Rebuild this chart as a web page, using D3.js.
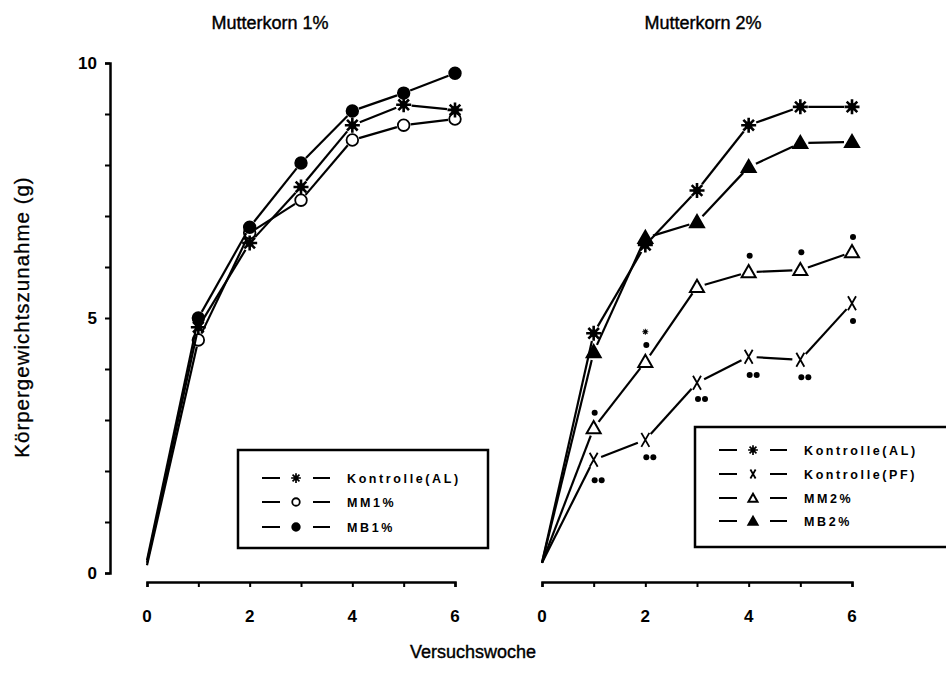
<!DOCTYPE html>
<html>
<head>
<meta charset="utf-8">
<script src="https://cdn.jsdelivr.net/npm/d3@7"></script>
<style>
  body { margin: 0; background: #fff; }
  svg { display: block; }
  text { font-family: "Liberation Sans", Arial, sans-serif; fill: #000; }
</style>
</head>
<body>
<svg width="946" height="685"></svg>
<script>
// weeks and values
var weeks = [0, 1, 2, 3, 4, 5, 6];
var xTicks = [0, 2, 4, 6];
var yTicks = [0, 5, 10];

// Mutterkorn 1%
var l_kontrolleAL = [0.2, 4.82, 6.47, 7.57, 8.78, 9.18, 9.08];
var l_mm1 = [0.15, 4.57, 6.67, 7.31, 8.49, 8.78, 8.9];
var l_mb1 = [0.25, 5.0, 6.78, 8.04, 9.06, 9.41, 9.8];

// Mutterkorn 2%
var r_kontrolleAL = [0.2, 4.7, 6.43, 7.5, 8.78, 9.14, 9.14];
var r_kontrollePF = [0.2, 2.22, 2.61, 3.73, 4.24, 4.18, 5.29];
var r_mm2 = [0.2, 2.84, 4.14, 5.61, 5.9, 5.94, 6.29];
var r_mb2 = [0.2, 4.33, 6.57, 6.88, 7.96, 8.43, 8.45];

// significance dots (week, value, number of dots)
var sigWeeks = [1, 2, 4, 5, 6, 1, 2, 3, 4, 5, 6];
var sigValues = [3.14, 4.47, 6.22, 6.29, 6.59, 1.82, 2.27, 3.41, 3.88, 3.84, 4.94];
var sigCounts = [1, 1, 1, 1, 1, 2, 2, 2, 2, 2, 1];
// small asterisk above MM2% week 2
var sigStarWeek = [2];
var sigStarValue = [4.73];

var svg = d3.select("svg");

var y = d3.scaleLinear().domain([0, 10]).range([573, 63]);
var xL = d3.scaleLinear().domain([0, 6]).range([147, 455]);
var xR = d3.scaleLinear().domain([0, 6]).range([542, 852]);

function marker(g, type, cx, cy, s) {
  s = s || 1;
  if (type == "star") {
    var r = 7.5 * s;
    var p = "";
    for (var i = 0; i < 4; i++) {
      var a = i * Math.PI / 4;
      p += "M" + (cx - r * Math.cos(a)) + "," + (cy - r * Math.sin(a)) +
           "L" + (cx + r * Math.cos(a)) + "," + (cy + r * Math.sin(a));
    }
    g.append("path").attr("d", p).attr("stroke", "#000").attr("stroke-width", 2.6 * s);
    g.append("circle").attr("cx", cx).attr("cy", cy).attr("r", 3.8 * s).attr("fill", "#000");
  } else if (type == "open" || type == "filled") {
    g.append("circle").attr("cx", cx).attr("cy", cy).attr("r", 5.8 * s)
      .attr("fill", type == "filled" ? "#000" : "#fff")
      .attr("stroke", "#000").attr("stroke-width", 1.8);
  } else if (type == "triOpen" || type == "triFilled") {
    g.append("path")
      .attr("d", d3.symbol().type(d3.symbolTriangle).size(85 * s * s)())
      .attr("transform", "translate(" + cx + "," + (cy + 1) + ")")
      .attr("fill", type == "triFilled" ? "#000" : "#fff")
      .attr("stroke", "#000").attr("stroke-width", 2);
  } else if (type == "x") {
    var w = 4 * s, h = 7 * s;
    g.append("path")
      .attr("d", "M" + (cx - w) + "," + (cy - h) + "L" + (cx + w) + "," + (cy + h) +
                 "M" + (cx + w) + "," + (cy - h) + "L" + (cx - w) + "," + (cy + h))
      .attr("stroke", "#000").attr("stroke-width", 1.8);
  }
}

function series(x, values, type, gap) {
  var g = svg.append("g");
  var pts = weeks.map(function(w, i) { return [x(w), y(values[i])]; });
  for (var i = 0; i < pts.length - 1; i++) {
    var a = pts[i], b = pts[i + 1];
    var dx = b[0] - a[0], dy = b[1] - a[1];
    var len = Math.sqrt(dx * dx + dy * dy);
    var g0 = i == 0 ? 0 : gap, g1 = gap;
    g.append("line")
      .attr("x1", a[0] + dx * g0 / len).attr("y1", a[1] + dy * g0 / len)
      .attr("x2", b[0] - dx * g1 / len).attr("y2", b[1] - dy * g1 / len)
      .attr("stroke", "#000").attr("stroke-width", 2.2);
  }
  for (var j = 1; j < pts.length; j++) marker(g, type, pts[j][0], pts[j][1]);
}

// axes
svg.append("g").attr("transform", "translate(110,0)")
  .call(d3.axisLeft(y).tickValues(d3.range(0, 11)).tickSize(5).tickFormat(""));
svg.append("g").selectAll("text").data(yTicks).enter().append("text")
  .attr("x", 97).attr("y", function(d) { return y(d) + 6; })
  .attr("text-anchor", "end").attr("font-size", 17).attr("font-weight", "bold")
  .text(function(d) { return d; });

function xAxis(x) {
  svg.append("g").attr("transform", "translate(0,582)")
    .call(d3.axisBottom(x).tickValues(weeks).tickSize(5).tickFormat(""));
  svg.append("g").selectAll("text").data(xTicks).enter().append("text")
    .attr("x", function(d) { return x(d); }).attr("y", 622)
    .attr("text-anchor", "middle").attr("font-size", 17).attr("font-weight", "bold")
    .text(function(d) { return d; });
}
xAxis(xL);
xAxis(xR);
svg.selectAll(".domain").attr("stroke-width", 2.5);
svg.selectAll(".tick line").attr("stroke-width", 2);

// series
series(xL, l_mm1, "open", 7);
series(xL, l_kontrolleAL, "star", 8);
series(xL, l_mb1, "filled", 7);

series(xR, r_kontrollePF, "x", 8);
series(xR, r_mm2, "triOpen", 8);
series(xR, r_mb2, "triFilled", 8);
series(xR, r_kontrolleAL, "star", 8);

// significance marks
sigWeeks.forEach(function(w, i) {
  var cx = xR(w), cy = y(sigValues[i]);
  svg.append("circle").attr("cx", cx + 1).attr("cy", cy).attr("r", 3).attr("fill", "#000");
  if (sigCounts[i] == 2) {
    svg.append("circle").attr("cx", cx + 8).attr("cy", cy).attr("r", 3).attr("fill", "#000");
  }
});
sigStarWeek.forEach(function(w, i) {
  marker(svg, "star", xR(w), y(sigStarValue[i]), 0.4);
});

// titles
svg.append("text").attr("x", 270).attr("y", 29).attr("text-anchor", "middle")
  .attr("font-size", 18).attr("stroke", "#000").attr("stroke-width", 0.4)
  .text("Mutterkorn 1%");
svg.append("text").attr("x", 703).attr("y", 29).attr("text-anchor", "middle")
  .attr("font-size", 18).attr("stroke", "#000").attr("stroke-width", 0.4)
  .text("Mutterkorn 2%");
svg.append("text").attr("x", 473).attr("y", 658).attr("text-anchor", "middle")
  .attr("font-size", 18).attr("stroke", "#000").attr("stroke-width", 0.4)
  .text("Versuchswoche");
svg.append("text").attr("transform", "translate(29,317) rotate(-90)").attr("text-anchor", "middle")
  .attr("font-size", 20.5).attr("letter-spacing", 1).attr("stroke", "#000").attr("stroke-width", 0.3)
  .text("Körpergewichtszunahme (g)");

// legends
function legend(x0, y0, w, h, names, types, rowY) {
  var g = svg.append("g");
  g.append("rect").attr("x", x0).attr("y", y0).attr("width", w).attr("height", h)
    .attr("fill", "#fff").attr("stroke", "#000").attr("stroke-width", 2.5);
  names.forEach(function(n, i) {
    var yy = y0 + rowY[i];
    g.append("line").attr("x1", x0 + 24).attr("x2", x0 + 42).attr("y1", yy).attr("y2", yy)
      .attr("stroke", "#000").attr("stroke-width", 2);
    g.append("line").attr("x1", x0 + 75).attr("x2", x0 + 92).attr("y1", yy).attr("y2", yy)
      .attr("stroke", "#000").attr("stroke-width", 2);
    marker(g, types[i], x0 + 58, yy, 0.65);
    g.append("text").attr("x", x0 + 109).attr("y", yy + 5).attr("font-size", 12.5)
      .attr("font-weight", "bold").attr("letter-spacing", 2.6).text(n);
  });
}
legend(238, 450, 250, 98, ["Kontrolle(AL)", "MM1%", "MB1%"], ["star", "open", "filled"], [28, 52, 77]);
legend(695, 427, 260, 120, ["Kontrolle(AL)", "Kontrolle(PF)", "MM2%", "MB2%"],
  ["star", "x", "triOpen", "triFilled"], [23, 47, 71, 94]);
</script>
</body>
</html>
